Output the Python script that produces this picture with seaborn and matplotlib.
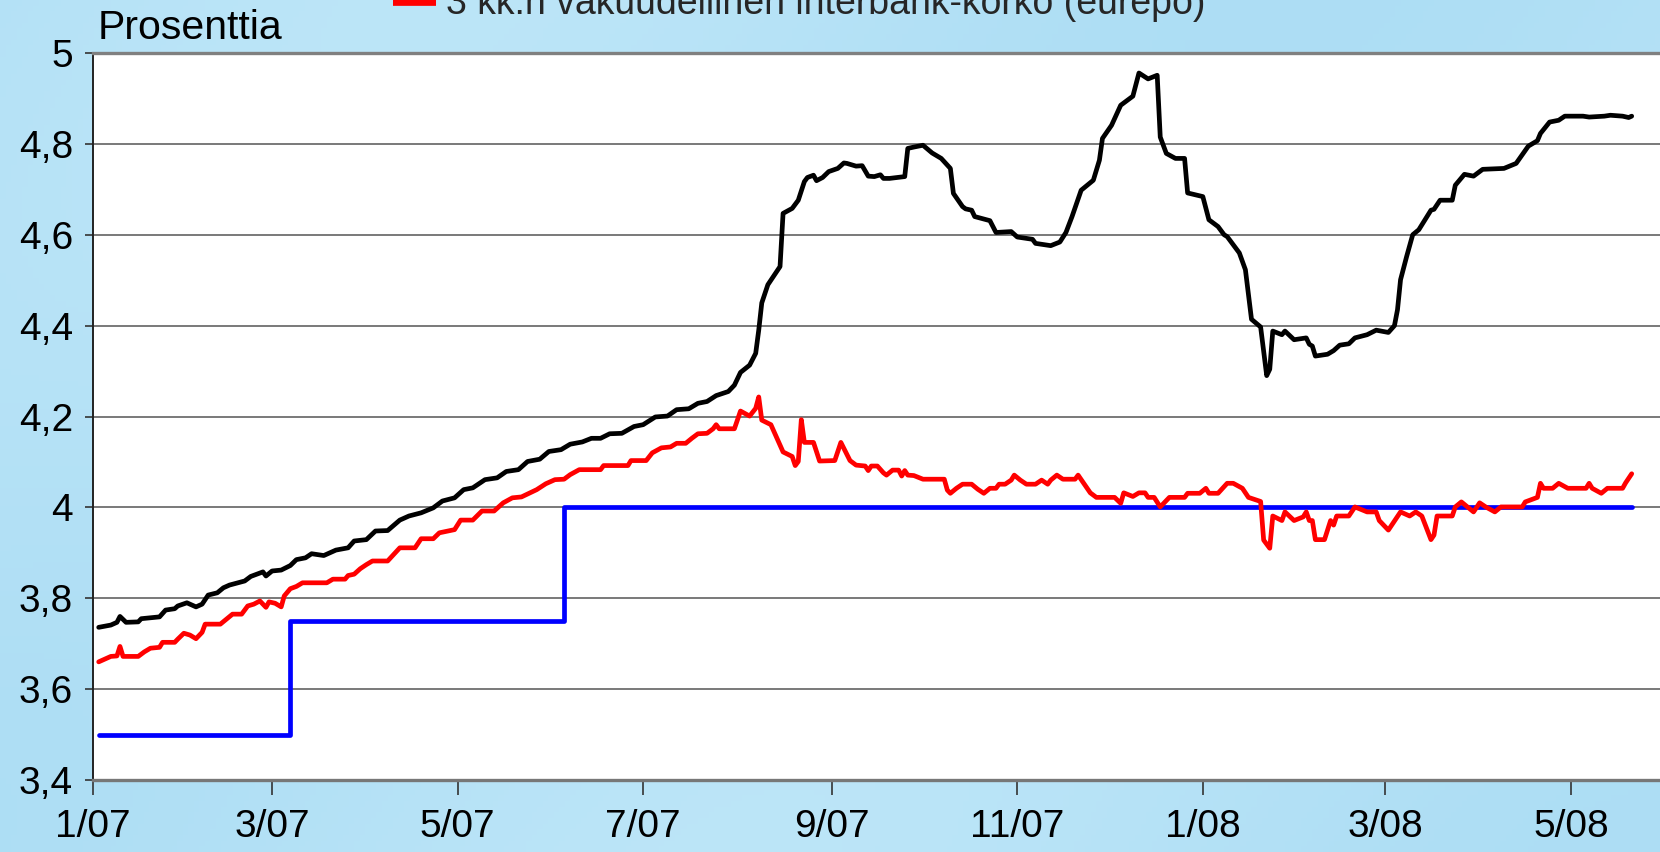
import numpy as np
import pandas as pd
import matplotlib
matplotlib.use("Agg")
import matplotlib.pyplot as plt
import seaborn as sns
from matplotlib.colors import LinearSegmentedColormap
from matplotlib.lines import Line2D

# ---------------- data ----------------
start_date = "2007-01-01"   # day 0 of the day offsets below

# 3 kk euribor (black)
black_days = [2, 6, 8, 9, 11, 15, 16, 22, 24, 27, 28, 31, 34, 36, 38, 41, 43, 45, 50, 52,
              56, 57, 59, 62, 65, 67, 70, 72, 76, 80, 84, 86, 90, 93, 97, 101, 104, 108, 112, 115,
              119, 122, 125, 129, 133, 136, 140, 143, 147, 150, 154, 157, 161, 164, 167, 170, 174, 178, 181, 185,
              189, 192, 196, 199, 202, 205, 209, 211, 213, 216, 218, 219, 220, 222, 224, 225, 226, 227, 230, 232,
              234, 235, 237, 238, 240, 242, 245, 247, 248, 251, 253, 255, 257, 259, 260, 262, 267, 268, 270, 273,
              276, 279, 282, 283, 286, 287, 289, 290, 295, 297, 302, 304, 309, 310, 315, 318, 320, 322, 325, 329,
              331, 332, 335, 338, 342, 344, 347, 350, 351, 353, 356, 359, 360, 365, 367, 370, 372, 373, 375, 377,
              379, 381, 384, 386, 387, 388, 391, 392, 395, 399, 400, 401, 402, 406, 408, 410, 413, 415, 419, 422,
              426, 428, 429, 430, 432, 434, 436, 440, 441, 443, 447, 448, 451, 454, 457, 464, 468, 472, 475, 476,
              479, 482, 484, 487, 490, 492, 497, 499, 503, 505, 506]
black_vals = [3.736, 3.741, 3.747, 3.760, 3.747, 3.748, 3.755, 3.759, 3.774, 3.777, 3.783, 3.790, 3.781, 3.787, 3.807, 3.812, 3.823, 3.829, 3.838, 3.848,
              3.858, 3.849, 3.860, 3.862, 3.872, 3.885, 3.889, 3.898, 3.894, 3.906, 3.911, 3.926, 3.929, 3.948, 3.949, 3.972, 3.981, 3.988, 3.999, 4.014,
              4.021, 4.039, 4.043, 4.061, 4.065, 4.079, 4.083, 4.101, 4.106, 4.123, 4.127, 4.139, 4.144, 4.152, 4.152, 4.162, 4.163, 4.178, 4.182, 4.199,
              4.201, 4.215, 4.217, 4.229, 4.233, 4.246, 4.255, 4.269, 4.297, 4.313, 4.339, 4.390, 4.450, 4.490, 4.510, 4.520, 4.530, 4.647, 4.658, 4.676,
              4.717, 4.726, 4.731, 4.719, 4.726, 4.739, 4.746, 4.758, 4.757, 4.751, 4.752, 4.729, 4.728, 4.732, 4.724, 4.724, 4.728, 4.790, 4.793, 4.797,
              4.780, 4.768, 4.746, 4.691, 4.662, 4.657, 4.654, 4.640, 4.631, 4.605, 4.607, 4.595, 4.590, 4.581, 4.576, 4.584, 4.605, 4.640, 4.698, 4.720,
              4.764, 4.812, 4.841, 4.885, 4.905, 4.956, 4.943, 4.951, 4.815, 4.779, 4.768, 4.768, 4.692, 4.684, 4.633, 4.618, 4.600, 4.596, 4.578, 4.560,
              4.523, 4.414, 4.397, 4.290, 4.304, 4.388, 4.380, 4.388, 4.369, 4.373, 4.359, 4.355, 4.333, 4.337, 4.345, 4.357, 4.360, 4.373, 4.380, 4.390,
              4.385, 4.400, 4.435, 4.501, 4.552, 4.600, 4.611, 4.654, 4.656, 4.676, 4.676, 4.709, 4.733, 4.729, 4.744, 4.746, 4.757, 4.795, 4.807, 4.823,
              4.848, 4.852, 4.861, 4.861, 4.861, 4.859, 4.861, 4.863, 4.861, 4.858, 4.861]

# 3 kk eurepo (red)
red_days = [2, 6, 8, 9, 10, 15, 17, 19, 22, 23, 27, 28, 30, 32, 34, 36, 37, 42, 44, 46,
            49, 51, 53, 55, 57, 58, 60, 62, 63, 65, 67, 69, 77, 79, 83, 84, 86, 88, 90, 92,
            97, 101, 106, 108, 112, 114, 119, 121, 125, 128, 132, 135, 138, 141, 146, 149, 152, 155, 157, 160,
            167, 168, 176, 177, 182, 184, 187, 190, 192, 195, 197, 199, 202, 204, 205, 206, 211, 213, 216, 218,
            219, 220, 223, 225, 227, 230, 231, 232, 233, 234, 237, 239, 244, 246, 249, 251, 254, 255, 256, 258,
            260, 261, 263, 265, 266, 267, 268, 270, 273, 280, 281, 282, 284, 286, 289, 291, 293, 295, 297, 298,
            300, 302, 303, 305, 307, 310, 312, 314, 315, 317, 319, 323, 324, 328, 330, 336, 338, 339, 342, 344,
            346, 347, 349, 351, 354, 359, 360, 364, 366, 367, 370, 373, 375, 378, 380, 384, 385, 387, 388, 391,
            392, 395, 398, 399, 400, 401, 402, 405, 407, 408, 409, 413, 415, 419, 422, 423, 426, 430, 433, 435,
            437, 440, 441, 442, 447, 448, 450, 454, 456, 458, 461, 463, 470, 471, 475, 476, 477, 480, 482, 485,
            491, 492, 493, 496, 498, 503, 504, 506]
red_vals = [3.660, 3.672, 3.673, 3.694, 3.672, 3.672, 3.682, 3.690, 3.692, 3.703, 3.703, 3.710, 3.723, 3.719, 3.711, 3.725, 3.743, 3.743, 3.754, 3.765,
            3.765, 3.783, 3.787, 3.794, 3.780, 3.792, 3.789, 3.781, 3.805, 3.821, 3.826, 3.834, 3.834, 3.842, 3.842, 3.850, 3.853, 3.865, 3.874, 3.882,
            3.882, 3.911, 3.911, 3.931, 3.931, 3.944, 3.951, 3.972, 3.972, 3.992, 3.992, 4.010, 4.021, 4.023, 4.039, 4.052, 4.061, 4.062, 4.072, 4.083,
            4.083, 4.092, 4.092, 4.103, 4.103, 4.120, 4.131, 4.133, 4.141, 4.141, 4.152, 4.162, 4.163, 4.173, 4.182, 4.173, 4.173, 4.212, 4.201, 4.218,
            4.243, 4.192, 4.182, 4.152, 4.122, 4.112, 4.092, 4.101, 4.193, 4.143, 4.143, 4.102, 4.103, 4.143, 4.103, 4.093, 4.091, 4.081, 4.091, 4.091,
            4.076, 4.071, 4.082, 4.082, 4.069, 4.081, 4.071, 4.070, 4.062, 4.062, 4.038, 4.031, 4.042, 4.051, 4.051, 4.040, 4.031, 4.042, 4.042, 4.051,
            4.051, 4.060, 4.071, 4.060, 4.051, 4.051, 4.060, 4.051, 4.060, 4.071, 4.062, 4.062, 4.071, 4.032, 4.022, 4.022, 4.009, 4.032, 4.024, 4.032,
            4.032, 4.022, 4.022, 4.001, 4.022, 4.022, 4.031, 4.031, 4.042, 4.031, 4.031, 4.053, 4.053, 4.042, 4.022, 4.013, 3.928, 3.910, 3.981, 3.971,
            3.990, 3.971, 3.979, 3.990, 3.971, 3.971, 3.929, 3.929, 3.971, 3.961, 3.981, 3.981, 4.001, 3.990, 3.990, 3.971, 3.950, 3.990, 3.981, 3.990,
            3.981, 3.929, 3.939, 3.981, 3.981, 4.001, 4.012, 3.990, 4.010, 4.001, 3.990, 4.001, 4.001, 4.012, 4.022, 4.053, 4.042, 4.042, 4.053, 4.042,
            4.042, 4.053, 4.042, 4.031, 4.042, 4.042, 4.054, 4.074]

# EKP:n ohjauskorko (blue), step changes
blue_days = [2, 65, 155, 506]
blue_vals = [3.50, 3.75, 4.00, 4.00]

x_tick_dates = ["2007-01-01", "2007-03-01", "2007-05-01", "2007-07-01", "2007-09-01",
                "2007-11-01", "2008-01-01", "2008-03-01", "2008-05-01"]
x_tick_labels = ["1/07", "3/07", "5/07", "7/07", "9/07", "11/07", "1/08", "3/08", "5/08"]
y_ticks = [3.4, 3.6, 3.8, 4.0, 4.2, 4.4, 4.6, 4.8, 5.0]
y_tick_labels = ["3,4", "3,6", "3,8", "4", "4,2", "4,4", "4,6", "4,8", "5"]
y_title = "Prosenttia"
legend_label = "3 kk:n vakuudellinen interbank-korko (eurepo)"

# ---------------- figure ----------------
sns.set_theme(style="white")
plt.rcParams['font.family'] = ['Liberation Sans', 'DejaVu Sans']

W, H = 1660, 852
fig = plt.figure(figsize=(W / 100, H / 100), dpi=100)

# light blue background
bg = fig.add_axes([0, 0, 1, 1], zorder=0)
gx = np.linspace(0, 1, 300)
gy = np.linspace(0, 1, 150)
GX, GY = np.meshgrid(gx, gy)
grad = 0.5 + 0.25 * np.sin(GX * 6.0 + GY * 2.0) * np.cos(GY * 3.0)
cmap_bg = LinearSegmentedColormap.from_list("bgblue", ["#a6daf2", "#c3e9fa"])
bg.imshow(grad, aspect="auto", extent=[0, 1, 0, 1], cmap=cmap_bg, vmin=0, vmax=1)
bg.set_axis_off()

left, right, top, bottom = 92.6, 1660, 53, 780
ax = fig.add_axes([left / W, 1 - bottom / H, (right - left) / W, (bottom - top) / H], zorder=1)
ax.set_facecolor("white")

t0 = pd.Timestamp(start_date)
to_dt = lambda d: t0 + pd.to_timedelta(np.asarray(d, dtype=float), unit="D")

LW = 3.4
sns.lineplot(x=to_dt(blue_days), y=blue_vals, ax=ax, color="#0000ff", linewidth=LW,
             drawstyle="steps-post", zorder=3)
sns.lineplot(x=to_dt(black_days), y=black_vals, ax=ax, color="black", linewidth=LW, zorder=4)
sns.lineplot(x=to_dt(red_days), y=red_vals, ax=ax, color="#ff0000", linewidth=LW, zorder=5)

ax.set_xlim(t0, t0 + pd.Timedelta(days=515.3))
ax.set_ylim(3.4, 5.0)

ax.set_yticks(y_ticks)
ax.set_yticklabels(y_tick_labels)
ax.set_xticks(pd.to_datetime(x_tick_dates))
ax.set_xticklabels(x_tick_labels)
ax.set_xlabel("")
ax.set_ylabel("")

ax.yaxis.grid(True, color="#555555", linewidth=1.1)
ax.xaxis.grid(False)
ax.set_axisbelow(True)

ax.spines["right"].set_visible(False)
ax.spines["left"].set_color("#222222")
ax.spines["left"].set_linewidth(1.4)
ax.spines["bottom"].set_color("#777777")
ax.spines["bottom"].set_linewidth(2.4)
ax.spines["top"].set_color("#808080")
ax.spines["top"].set_linewidth(2.4)

ax.tick_params(axis="x", direction="out", length=11, width=1.2, color="#333333",
               labelsize=28, pad=10, bottom=True, labelcolor="black")
ax.tick_params(axis="y", direction="out", length=6, width=1.2, color="#333333",
               labelsize=28, pad=8, left=True, labelcolor="black")

fig.text(98 / W, 1 - 39 / H, y_title, fontsize=29.5, ha="left", va="baseline", color="black")

red_handle = Line2D([], [], color="#ff0000", linewidth=7, solid_capstyle="butt")
leg = fig.legend([red_handle], [legend_label], loc="center left",
                 bbox_to_anchor=(393 / W, 1 - 4 / H), bbox_transform=fig.transFigure,
                 frameon=False, fontsize=27, handlelength=1.15, handletextpad=0.27,
                 borderpad=0, borderaxespad=0)
leg.set_zorder(10)

fig.savefig("out.png", dpi=100)
